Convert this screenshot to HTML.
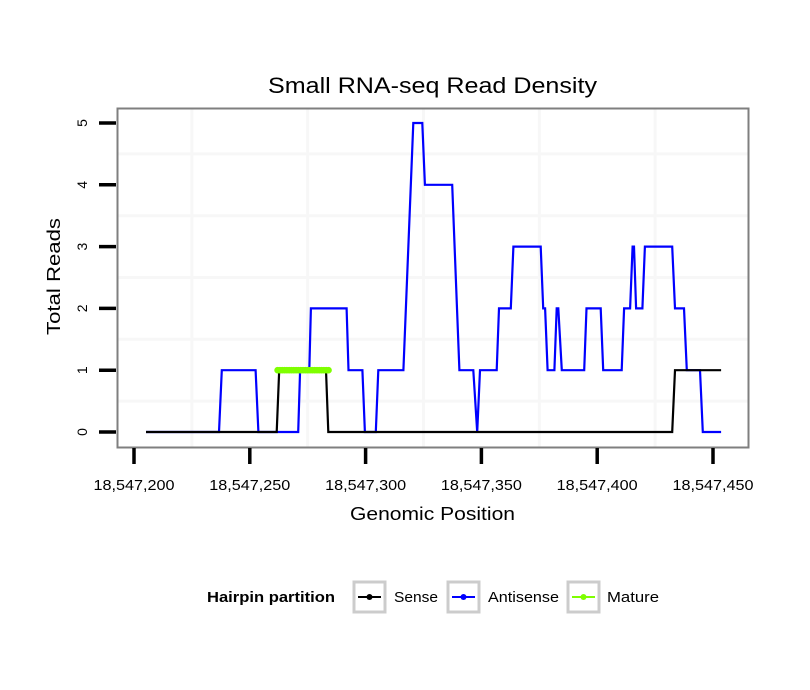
<!DOCTYPE html>
<html><head><meta charset="utf-8"><style>
body{margin:0;background:#fff;}
svg{display:block;font-family:"Liberation Sans",sans-serif;}
</style></head><body>
<svg id="chart" width="810" height="690" xmlns="http://www.w3.org/2000/svg">
<rect width="810" height="690" fill="#fff"/>
<text x="432.5" y="93" font-size="22" text-anchor="middle" textLength="329" lengthAdjust="spacingAndGlyphs">Small RNA-seq Read Density</text>
<g id="grid"></g>
<g id="series"></g>
<rect x="117.5" y="108.5" width="631" height="339" fill="none" stroke="#7f7f7f" stroke-width="2"/>
<g id="axes"></g>
<text x="432.5" y="520" font-size="18" text-anchor="middle" textLength="165" lengthAdjust="spacingAndGlyphs">Genomic Position</text>
<text transform="translate(60,276.5) rotate(-90)" font-size="18" text-anchor="middle" textLength="117" lengthAdjust="spacingAndGlyphs">Total Reads</text>
<g>
<text x="207" y="602" font-size="15" font-weight="bold" textLength="128" lengthAdjust="spacingAndGlyphs">Hairpin partition</text>
<g><rect x="354" y="582" width="31" height="30" fill="#fff" stroke="#ccc" stroke-width="3"/><line x1="358" x2="381" y1="597" y2="597" stroke="#000" stroke-width="2"/><circle cx="369.5" cy="597" r="3" fill="#000"/><text x="394" y="602" font-size="15" textLength="44" lengthAdjust="spacingAndGlyphs">Sense</text></g>
<g><rect x="448" y="582" width="31" height="30" fill="#fff" stroke="#ccc" stroke-width="3"/><line x1="452" x2="475" y1="597" y2="597" stroke="#00f" stroke-width="2"/><circle cx="463.5" cy="597" r="3" fill="#00f"/><text x="488" y="602" font-size="15" textLength="71" lengthAdjust="spacingAndGlyphs">Antisense</text></g>
<g><rect x="568" y="582" width="31" height="30" fill="#fff" stroke="#ccc" stroke-width="3"/><line x1="572" x2="595" y1="597" y2="597" stroke="#7fff00" stroke-width="2"/><circle cx="583.5" cy="597" r="3" fill="#7fff00"/><text x="607" y="602" font-size="15" textLength="52" lengthAdjust="spacingAndGlyphs">Mature</text></g>
</g>
</svg>
<script>
const base = 18547200;
const xTicks = [18547200, 18547250, 18547300, 18547350, 18547400, 18547450];
const xTickLabels = ["18,547,200","18,547,250","18,547,300","18,547,350","18,547,400","18,547,450"];
const xMinorGrid = [18547225, 18547275, 18547325, 18547375, 18547425];
const yTicks = [0,1,2,3,4,5];
const yMinorGrid = [0.5,1.5,2.5,3.5,4.5];
const antisenseOffsets = [5.2,36.7,37.9,52.5,53.7,70.9,71.7,75.7,76.4,91.8,92.6,98.6,99.7,104.4,105.5,116.3,120.6,124.5,125.6,137.4,140.5,146.5,148.2,149.4,156.6,157.6,162.7,163.8,175.6,176.7,177.5,178.6,181.5,182.5,183.2,184.7,194.4,195.4,201.5,202.6,210.6,211.6,214.2,215.3,215.9,216.8,219.5,220.6,232.4,233.6,237.5,238.7,244.4,245.6,253.5];
const antisenseReads = [0,0,1,1,0,0,1,1,2,2,1,1,0,0,1,1,5,5,4,4,1,1,0,1,1,2,2,3,3,2,2,1,1,2,2,1,1,2,2,1,1,2,2,3,3,2,2,3,3,2,2,1,1,0,0];
const senseOffsets = [5.2,61.6,62.7,82.9,83.9,232.4,233.6,253.5];
const senseReads = [0,0,1,1,0,0,1,1];
const matureOffsets = [62,63,64,65,66,67,68,69,70,71,72,73,74,75,76,77,78,79,80,81,82,83,84];
const matureReads = [1,1,1,1,1,1,1,1,1,1,1,1,1,1,1,1,1,1,1,1,1,1,1];

const NS="http://www.w3.org/2000/svg";
const xs = v => 134 + (v - 18547200) * (713-134)/250;
const ys = v => 432 - v * (432-123)/5;
function mk(tag, attrs, parent){const e=document.createElementNS(NS,tag);for(const k in attrs)e.setAttribute(k,attrs[k]);parent.appendChild(e);return e;}
const grid=document.getElementById('grid'), axes=document.getElementById('axes'), series=document.getElementById('series');
mk('rect',{x:117,y:108,width:631,height:339,fill:'#fff'},grid);
xMinorGrid.forEach(v=>{const l=mk('line',{x1:xs(v),x2:xs(v),y1:108,y2:447,stroke:'#f7f7f7','stroke-width':3},grid);

});
yMinorGrid.forEach(v=>{const l=mk('line',{x1:117,x2:748,y1:ys(v),y2:ys(v),stroke:'#f7f7f7','stroke-width':3},grid);

});
xTicks.forEach((v,i)=>{const t=mk('line',{x1:xs(v),x2:xs(v),y1:448,y2:464,stroke:'#000','stroke-width':3.5},axes);


const tx=mk('text',{x:xs(v),y:490,'font-size':14.5,'text-anchor':'middle',textLength:81,lengthAdjust:'spacingAndGlyphs'},axes);tx.textContent=xTickLabels[i];

});
yTicks.forEach(v=>{const t=mk('line',{x1:99,x2:116,y1:ys(v),y2:ys(v),stroke:'#000','stroke-width':3.5},axes);


const tx=mk('text',{transform:`translate(87,${ys(v)}) rotate(-90)`,'font-size':14,'text-anchor':'middle'},axes);tx.textContent=String(v);

});
function path(offs,vals,color,name){const d=offs.map((o,i)=>(i?'L':'M')+xs(base+o).toFixed(1)+','+ys(vals[i]).toFixed(1)).join(' ');
const p=mk('path',{d:d,fill:'none',stroke:color,'stroke-width':2.2,'stroke-linejoin':'miter'},series);

}
path(antisenseOffsets,antisenseReads,'#0000ff','antisense-line');
path(senseOffsets,senseReads,'#000000','sense-line');
path(matureOffsets,matureReads,'#7fff00','mature-line');
matureOffsets.forEach((o,i)=>{const c=mk('circle',{cx:xs(base+o),cy:ys(matureReads[i]),r:3.3,fill:'#7fff00'},series);

});
</script>
</body></html>
